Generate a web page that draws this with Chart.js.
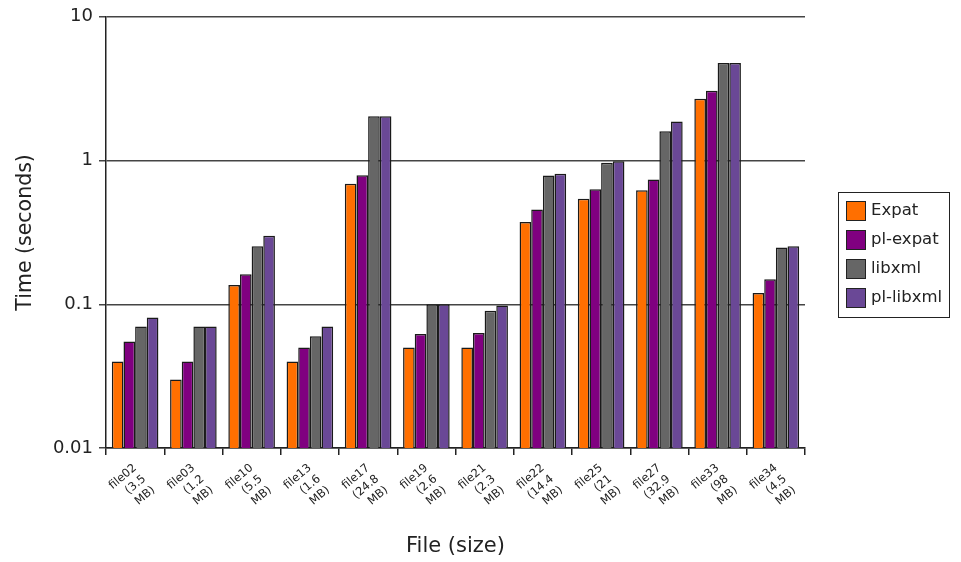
<!DOCTYPE html>
<html>
<head>
<meta charset="utf-8">
<script src="https://cdn.jsdelivr.net/npm/chart.js@4.4.1/dist/chart.umd.min.js"></script>
<style>
  html, body { margin: 0; padding: 0; background: #ffffff; }
  #wrap { width: 961px; height: 562px; }
</style>
</head>
<body>
<div id="wrap"><canvas id="c" width="961" height="562"></canvas></div>
<script>
const categories = [
  ["file02", "(3.5", "MB)"], ["file03", "(1.2", "MB)"], ["file10", "(5.5", "MB)"],
  ["file13", "(1.6", "MB)"], ["file17", "(24.8", "MB)"], ["file19", "(2.6", "MB)"],
  ["file21", "(2.3", "MB)"], ["file22", "(14.4", "MB)"], ["file25", "(21", "MB)"],
  ["file27", "(32.9", "MB)"], ["file33", "(98", "MB)"], ["file34", "(4.5", "MB)"]
];
const seriesNames = ["Expat", "pl-expat", "libxml", "pl-libxml"];
const expat    = [0.04, 0.03, 0.136, 0.04, 0.69, 0.05, 0.05, 0.373, 0.542, 0.622, 2.69, 0.12];
const plExpat  = [0.055, 0.04, 0.162, 0.05, 0.79, 0.062, 0.063, 0.457, 0.632, 0.738, 3.06, 0.149];
const libxml   = [0.07, 0.07, 0.253, 0.06, 2.03, 0.1, 0.09, 0.787, 0.964, 1.6, 4.77, 0.248];
const plLibxml = [0.081, 0.07, 0.30, 0.07, 2.03, 0.1, 0.098, 0.81, 0.99, 1.87, 4.77, 0.253];
const yTicks = [0.01, 0.1, 1, 10];
const colors = ["#ff6f00", "#800080", "#666666", "#6a4896"];

const seriesValues = [expat, plExpat, libxml, plLibxml];
const FONT = "'DejaVu Sans', sans-serif";

const boxedLegend = {
  id: 'boxedLegend',
  afterDraw(chart) {
    const ctx = chart.ctx;
    const area = chart.chartArea;
    const x0 = area.right + 33, y0 = 192, w = 111, rowH = 29;
    const h = rowH * chart.data.datasets.length + 9;
    ctx.save();
    ctx.strokeStyle = '#222';
    ctx.lineWidth = 1;
    ctx.strokeRect(x0 + 0.5, y0 + 0.5, w, h);
    ctx.font = "16.5px " + FONT;
    ctx.textBaseline = 'middle';
    ctx.textAlign = 'left';
    chart.data.datasets.forEach((ds, i) => {
      const cy = y0 + 19 + i * rowH;
      ctx.fillStyle = ds.backgroundColor;
      ctx.fillRect(x0 + 8, cy - 10, 20, 20);
      ctx.strokeStyle = '#222';
      ctx.strokeRect(x0 + 8.5, cy - 9.5, 19, 19);
      ctx.fillStyle = '#222';
      ctx.fillText(ds.label, x0 + 33, cy);
    });
    ctx.restore();
  }
};

new Chart(document.getElementById('c'), {
  type: 'bar',
  data: {
    labels: categories,
    datasets: seriesNames.map((name, i) => ({
      label: name,
      data: seriesValues[i],
      backgroundColor: colors[i],
      borderColor: '#1a1a1a',
      borderWidth: 1.5,
      categoryPercentage: 0.8,
      barPercentage: 1.0
    }))
  },
  options: {
    responsive: false,
    animation: false,
    layout: { padding: { left: 0, right: 156, top: 16, bottom: 0 } },
    plugins: {
      legend: { display: false },
      tooltip: { enabled: false }
    },
    scales: {
      x: {
        offset: true,
        grid: { display: true, drawOnChartArea: false, drawTicks: true, tickLength: 7, offset: true, color: '#222', lineWidth: 1.5 },
        border: { display: true, color: '#222', width: 1.5 },
        ticks: {
          autoSkip: false,
          maxRotation: 40,
          minRotation: 40,
          color: '#222',
          font: { family: FONT, size: 11.5, lineHeight: 1.25 },
          padding: 6
        },
        title: {
          display: true,
          text: 'File (size)',
          color: '#222',
          font: { family: FONT, size: 21 },
          padding: { top: 4, bottom: 3 }
        },
        afterFit(scale) { scale.height = 114; }
      },
      y: {
        type: 'logarithmic',
        min: 0.01,
        max: 10,
        afterBuildTicks(scale) { scale.ticks = yTicks.map(v => ({ value: v })); },
        grid: { color: '#444', lineWidth: 1.5, drawTicks: true, tickLength: 7 },
        border: { display: true, color: '#222', width: 1.5 },
        ticks: {
          color: '#222',
          font: { family: FONT, size: 18 },
          padding: 6,
          callback: (v) => String(v)
        },
        title: {
          display: true,
          text: 'Time (seconds)',
          color: '#222',
          font: { family: FONT, size: 20.5 },
          padding: { top: 13, bottom: 4 }
        },
        afterFit(scale) { scale.width = 106; }
      }
    }
  },
  plugins: [boxedLegend]
});
</script>
</body>
</html>
